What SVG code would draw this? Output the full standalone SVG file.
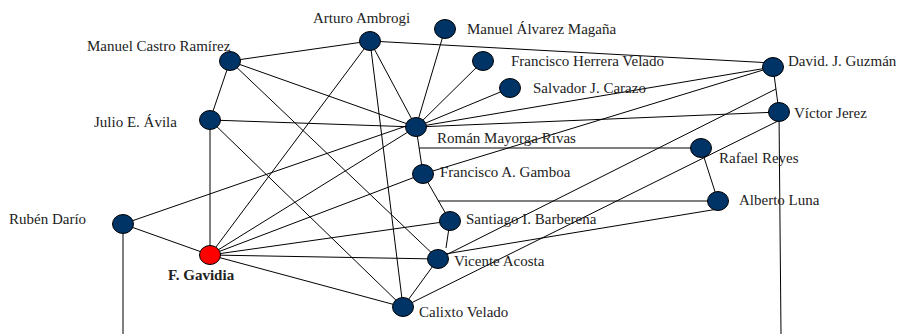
<svg xmlns="http://www.w3.org/2000/svg" width="900" height="334" viewBox="0 0 900 334">
<style>
.e{stroke:#000;stroke-width:1;fill:none}
.n{fill:#003366;stroke:#000;stroke-width:1}
.r{fill:#ff0000;stroke:#000;stroke-width:1}
text{font-family:"Liberation Serif","Times New Roman",serif;font-size:15px;fill:#222}
.b{font-weight:bold}
</style>
<rect width="900" height="334" fill="#fff"/>
<g id="connectors">
<line class="e" x1="370" y1="41" x2="230" y2="61"/>
<line class="e" x1="370" y1="41" x2="773" y2="63"/>
<line class="e" x1="370" y1="41" x2="210" y2="255"/>
<line class="e" x1="370" y1="41" x2="416" y2="127"/>
<line class="e" x1="370" y1="41" x2="403" y2="307"/>
<line class="e" x1="230" y1="61" x2="210" y2="120"/>
<line class="e" x1="230" y1="61" x2="416" y2="127"/>
<line class="e" x1="230" y1="61" x2="438" y2="259"/>
<line class="e" x1="210" y1="120" x2="416" y2="127"/>
<line class="e" x1="210" y1="120" x2="210" y2="255"/>
<line class="e" x1="210" y1="120" x2="403" y2="307"/>
<line class="e" x1="416" y1="127" x2="445" y2="29"/>
<line class="e" x1="416" y1="127" x2="483" y2="61"/>
<line class="e" x1="416" y1="127" x2="510" y2="88"/>
<line class="e" x1="416" y1="127" x2="773" y2="67"/>
<line class="e" x1="416" y1="127" x2="779" y2="112"/>
<line class="e" x1="416" y1="127" x2="423" y2="174"/>
<line class="e" x1="123" y1="224" x2="412" y2="124"/>
<line class="e" x1="416" y1="127" x2="210" y2="255"/>
<line class="e" x1="773" y1="67" x2="779" y2="112"/>
<line class="e" x1="773" y1="67" x2="423" y2="174"/>
<line class="e" x1="776" y1="89" x2="438" y2="259"/>
<line class="e" x1="778" y1="121" x2="403" y2="307"/>
<line class="e" x1="779" y1="112" x2="781" y2="334"/>
<line class="e" x1="419" y1="148" x2="701" y2="148"/>
<line class="e" x1="701" y1="148" x2="718" y2="201"/>
<line class="e" x1="438" y1="201" x2="718" y2="201"/>
<line class="e" x1="718" y1="209" x2="445" y2="254"/>
<line class="e" x1="423" y1="174" x2="450" y2="221"/>
<line class="e" x1="423" y1="174" x2="210" y2="255"/>
<line class="e" x1="450" y1="221" x2="446" y2="248"/>
<line class="e" x1="450" y1="221" x2="210" y2="255"/>
<line class="e" x1="438" y1="259" x2="210" y2="255"/>
<line class="e" x1="438" y1="259" x2="403" y2="307"/>
<line class="e" x1="403" y1="307" x2="210" y2="255"/>
<line class="e" x1="123" y1="224" x2="210" y2="255"/>
<line class="e" x1="123" y1="224" x2="123" y2="334"/>
</g>
<g id="arturo-ambrogi"><ellipse class="n" cx="370" cy="41" rx="10.5" ry="9.5"/><text x="313" y="23">Arturo Ambrogi</text></g>
<g id="manuel-alvarez-magana"><ellipse class="n" cx="445" cy="29" rx="10.5" ry="9.5"/><text x="467" y="34">Manuel Álvarez Magaña</text></g>
<g id="manuel-castro-ramirez"><ellipse class="n" cx="230" cy="61" rx="10.5" ry="9.5"/><text x="87" y="51">Manuel Castro Ramírez</text></g>
<g id="francisco-herrera-velado"><ellipse class="n" cx="483" cy="61" rx="10.5" ry="9.5"/><text x="511" y="66">Francisco Herrera Velado</text></g>
<g id="salvador-carazo"><ellipse class="n" cx="510" cy="88" rx="10.5" ry="9.5"/><text x="533" y="93">Salvador J. Carazo</text></g>
<g id="david-guzman"><ellipse class="n" cx="773" cy="67" rx="10.5" ry="9.5"/><text x="788" y="66">David. J. Guzmán</text></g>
<g id="victor-jerez"><ellipse class="n" cx="779" cy="112" rx="10.5" ry="9.5"/><text x="794" y="118">Víctor Jerez</text></g>
<g id="julio-avila"><ellipse class="n" cx="210" cy="120" rx="10.5" ry="9.5"/><text x="94" y="127">Julio E. Ávila</text></g>
<g id="roman-mayorga-rivas"><ellipse class="n" cx="416" cy="127" rx="10.5" ry="9.5"/><text x="437" y="143">Román Mayorga Rivas</text></g>
<g id="rafael-reyes"><ellipse class="n" cx="701" cy="148" rx="10.5" ry="9.5"/><text x="719" y="163">Rafael Reyes</text></g>
<g id="francisco-gamboa"><ellipse class="n" cx="423" cy="174" rx="10.5" ry="9.5"/><text x="440" y="177">Francisco A. Gamboa</text></g>
<g id="alberto-luna"><ellipse class="n" cx="718" cy="201" rx="10.5" ry="9.5"/><text x="739" y="205">Alberto Luna</text></g>
<g id="ruben-dario"><ellipse class="n" cx="123" cy="224" rx="10.5" ry="9.5"/><text x="9" y="224">Rubén Darío</text></g>
<g id="santiago-barberena"><ellipse class="n" cx="450" cy="221" rx="10.5" ry="9.5"/><text x="466" y="224">Santiago I. Barberena</text></g>
<g id="f-gavidia"><ellipse class="r" cx="210" cy="255" rx="10.5" ry="9.5"/><text class="b" x="168" y="280">F. Gavidia</text></g>
<g id="vicente-acosta"><ellipse class="n" cx="438" cy="259" rx="10.5" ry="9.5"/><text x="454" y="266">Vicente Acosta</text></g>
<g id="calixto-velado"><ellipse class="n" cx="403" cy="307" rx="10.5" ry="9.5"/><text x="419" y="317">Calixto Velado</text></g>
</svg>
